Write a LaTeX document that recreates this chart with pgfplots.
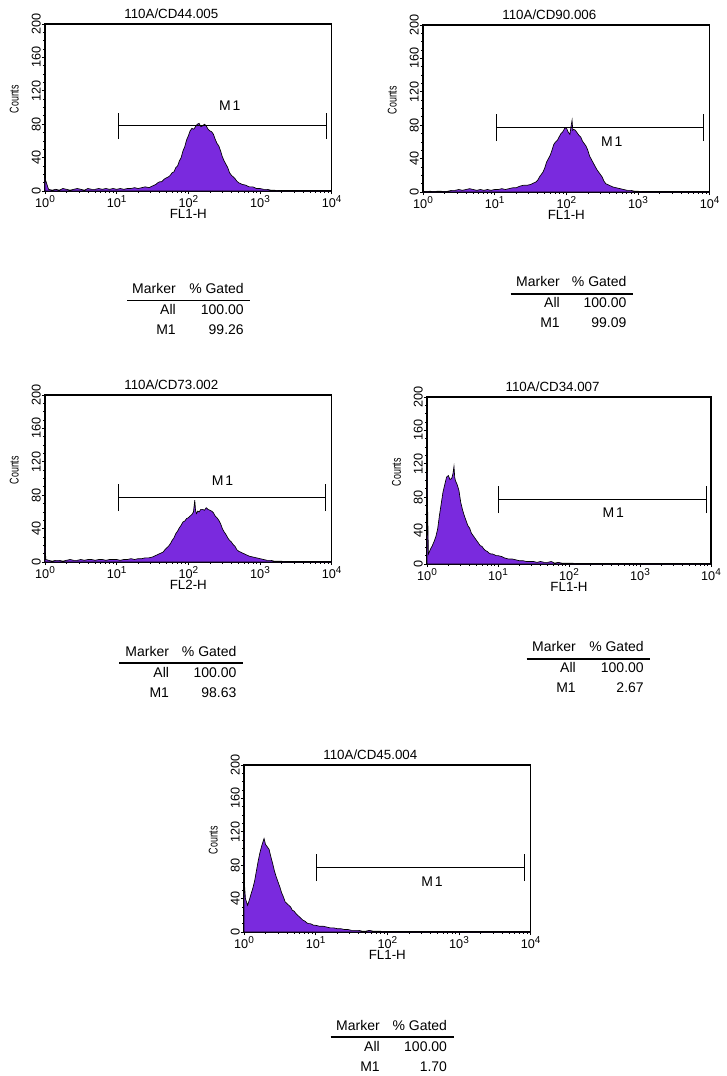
\documentclass[border=0pt]{standalone}
\usepackage{fontspec}
\setmainfont{Liberation Sans}
\usepackage{graphicx}
\usepackage{pgfplots}
\usepackage{pgfplotstable}
\pgfplotsset{compat=1.18}

\definecolor{facsfill}{RGB}{122,42,222}

\pgfplotstableread{
x y
1 15
1.122 2
1.259 1
1.413 2
1.585 1
1.778 3
1.995 2
2.239 1
2.512 2
2.818 3
3.162 2
3.548 1
3.981 3
4.467 2
5.012 2
5.623 3
6.310 2
7.079 3
7.943 2
8.913 3
10 2
11.22 3
12.59 2
14.13 3
15.85 3
17.78 4
19.95 3
22.39 4
25.12 5
28.18 4
31.62 6
33.50 7
35.48 8
37.58 10
39.81 11
42.17 11
44.67 13
47.32 15
50.12 16
53.09 17
56.23 19
59.57 22
63.10 23
66.83 28
70.79 30
74.99 36
79.43 40
84.14 48
89.13 53
94.41 61
100 66
105.9 72
112.2 75
118.9 74
125.9 77
133.4 80
141.3 81
149.6 77
158.5 78
167.9 80
177.8 78
188.4 74
199.5 72
211.3 71
223.9 68
237.1 62
251.2 57
266.1 54
281.8 48
298.5 41
316.2 36
335.0 32
354.8 28
375.8 22
398.1 19
421.7 17
446.7 15
473.2 12
501.2 10
530.9 9
562.3 8
631.0 7
707.9 5
794.3 5
891.3 3
1000 3
1122 2
1259 2
1413 1
1585 1
1778 0
10000 0
}\cdfourfour

\pgfplotstableread{
x y
1 1
1.122 0
1.259 1
1.413 0
1.585 1
1.778 1
1.995 0
2.239 1
2.512 2
2.818 2
3.162 3
3.548 2
3.981 3
4.467 4
5.012 3
5.623 2
6.310 3
7.079 2
7.943 3
8.913 2
10 3
11.22 3
12.59 4
14.13 3
15.85 4
17.78 5
19.95 5
22.39 7
25.12 8
28.18 8
31.62 9
33.50 10
35.48 11
37.58 12
39.81 14
42.17 18
44.67 21
47.32 24
50.12 29
53.09 36
56.23 40
59.57 44
63.10 50
66.83 57
70.79 60
74.99 62
79.43 66
84.14 70
89.13 72
94.41 76
100 77
105.9 72
112.2 69
116 78
120.2 86
123 74
125.9 75
133.4 74
141.3 71
149.6 68
158.5 66
167.9 61
177.8 58
188.4 55
199.5 50
211.3 43
223.9 39
237.1 35
251.2 31
266.1 27
281.8 24
298.5 21
316.2 18
335.0 13
354.8 10
375.8 9
398.1 8
446.7 6
501.2 5
562.3 4
631.0 3
707.9 2
794.3 2
891.3 1
1000 1
1122 0
10000 0
}\cdninety

\pgfplotstableread{
x y
1 18
1.03 3
1.122 2
1.259 1
1.413 2
1.585 2
1.778 1
1.995 2
2.239 3
2.512 2
2.818 2
3.162 3
3.548 2
3.981 3
4.467 3
5.012 2
5.623 3
6.310 3
7.079 2
7.943 3
8.913 3
10 3
11.22 2
12.59 3
14.13 3
15.85 4
17.78 3
19.95 4
22.39 4
25.12 5
28.18 5
31.62 6
33.50 7
35.48 8
37.58 9
39.81 10
42.17 11
44.67 12
47.32 15
50.12 17
53.09 19
56.23 22
59.57 26
63.10 29
66.83 34
70.79 37
74.99 41
79.43 44
84.14 48
89.13 49
94.41 52
100 53
105.9 55
112.2 57
118 60
123 74
126 62
130 58
135.5 61
141.3 60
149.6 63
158.5 63
167.9 62
177.8 65
188.4 63
199.5 62
211.3 61
223.9 59
237.1 55
251.2 53
266.1 50
281.8 46
298.5 40
316.2 36
335.0 33
354.8 29
375.8 26
398.1 24
421.7 21
446.7 19
473.2 15
501.2 13
530.9 12
562.3 11
595.7 10
631.0 9
707.9 7
794.3 6
891.3 5
1000 4
1122 3
1259 2
1413 2
1585 1
1778 1
1995 1
2239 0
10000 0
}\cdseventhree

\pgfplotstableread{
x y
1 110
1.023 60
1.047 12
1.122 18
1.189 22
1.259 27
1.334 33
1.413 42
1.496 58
1.585 72
1.679 86
1.778 95
1.884 104
1.995 106
2.113 101
2.239 103
2.320 108
2.399 117
2.455 104
2.512 100
2.661 95
2.818 88
2.985 74
3.162 65
3.350 58
3.548 52
3.758 46
3.981 43
4.217 37
4.467 34
4.732 31
5.012 28
5.309 25
5.623 22
5.957 21
6.310 18
6.683 16
7.079 15
7.499 13
7.943 12
8.414 12
8.913 11
9.441 10
10 10
11.22 9
12.59 7
14.13 6
15.85 6
17.78 5
19.95 4
22.39 4
25.12 3
28.18 3
31.62 3
35.48 2
39.81 3
44.67 2
50.12 2
56.23 3
63.10 1
70.79 2
79.43 1
89.13 1
100 1
112.2 1
125.9 0
10000 0
}\cdthreefour

\pgfplotstableread{
x y
1 120
1.019 55
1.047 40
1.122 32
1.202 40
1.259 46
1.334 53
1.413 62
1.496 74
1.585 86
1.679 96
1.778 104
1.905 112
1.995 105
2.113 102
2.239 99
2.371 90
2.512 82
2.661 73
2.818 66
2.985 60
3.162 54
3.350 47
3.548 42
3.758 36
3.981 34
4.217 32
4.467 30
4.732 26
5.012 25
5.309 22
5.623 20
5.957 18
6.310 16
6.683 14
7.079 13
7.499 11
7.943 10
8.414 10
8.913 9
9.441 8
10 8
11.22 7
12.59 7
14.13 6
15.85 5
17.78 5
19.95 4
22.39 4
25.12 3
28.18 3
31.62 2
35.48 2
39.81 2
44.67 1
50.12 1
56.23 2
63.10 1
70.79 1
79.43 1
89.13 0
10000 0
}\cdfourfive

\tikzset{
  facshist/.style={fill=facsfill, draw=black, line width=0.5pt},
  facsgate/.style={black, line width=0.9pt},
}
% decade tick label: 10 with a raised exponent, set in the text font
\newcommand{\dec}[1]{{\fontsize{9.5}{11}\selectfont 10\raisebox{0.42em}{\fontsize{7.5}{8}\selectfont #1}}}

\pgfplotsset{
  every axis title/.style={at={(axis description cs:0.276,1)}, anchor=base west,
    yshift=4.1pt, inner sep=0pt, font=\fontsize{10}{12}\selectfont},
  every axis x label/.style={at={(axis description cs:0.5,0)}, anchor=north,
    inner sep=0pt, yshift=-13.6pt, font=\fontsize{10}{12}\selectfont},
  every axis y label/.style={at={(axis description cs:-0.091,0.55)}, rotate=90,
    anchor=south, inner sep=0pt},
  every axis/.append style={
    scale only axis,
    height=125.25pt,
    xmin=1, xmax=10000, ymin=0, ymax=200,
    /pgf/number format/assume math mode=true,
    xtick={1,10,100,1000,10000},
    xticklabels={\dec{0},\dec{1},\dec{2},\dec{3},\dec{4}},
    minor xtick={2,3,4,5,6,7,8,9,20,30,40,50,60,70,80,90,200,300,400,500,600,700,800,900,2000,3000,4000,5000,6000,7000,8000,9000},
    ytick={0,40,80,120,160,200},
    minor ytick={10,20,30,50,60,70,90,100,110,130,140,150,170,180,190},
    tick pos=left,
    tick align=outside,
    major tick length=2.4pt,
    minor tick length=1.3pt,
    tick style={black, line width=0.6pt},
    axis line style={line width=0.8pt},
    xticklabel style={anchor=north, inner sep=0pt, yshift=-0.5pt},
    yticklabel style={font=\fontsize{9.5}{10}\selectfont, rotate=90, anchor=south, inner sep=0.6pt},
    ylabel={\fontsize{9.5}{11}\selectfont\scalebox{0.7}[1]{Counts}},
  },
}

\newcommand{\mlabel}{M\kern1.4pt1}

\begin{document}
\begin{tikzpicture}
\path[use as bounding box] (0pt,0pt) rectangle (545.25pt,-807pt);

% ---- CD44
\begin{axis}[xmode=log, width=215pt, anchor=south west, at={(33.75pt,-143.25pt)},
  title={110A/CD44.005}, xlabel={FL1-H}]
\addplot[facshist] table {\cdfourfour} \closedcycle;
\addplot[facsgate] coordinates {(10.7,78) (8500,78)};
\addplot[facsgate] coordinates {(10.7,62) (10.7,94)};
\addplot[facsgate] coordinates {(8500,62) (8500,94)};
\node[font=\fontsize{10.5}{12}\selectfont] at (axis cs:380,102) {\mlabel};
\end{axis}

% ---- CD90
\begin{axis}[xmode=log, width=215pt, anchor=south west, at={(317.25pt,-144pt)},
  title={110A/CD90.006}, xlabel={FL1-H}]
\addplot[facshist] table {\cdninety} \closedcycle;
\addplot[facsgate] coordinates {(10.7,77) (8300,77)};
\addplot[facsgate] coordinates {(10.7,61) (10.7,93)};
\addplot[facsgate] coordinates {(8300,61) (8300,93)};
\node[font=\fontsize{10.5}{12}\selectfont] at (axis cs:430,60) {\mlabel};
\end{axis}

% ---- CD73
\begin{axis}[xmode=log, width=215pt, anchor=south west, at={(33.75pt,-421.5pt)},
  title={110A/CD73.002}, xlabel={FL2-H}]
\addplot[facshist] table {\cdseventhree} \closedcycle;
\addplot[facsgate] coordinates {(10.5,77) (8300,77)};
\addplot[facsgate] coordinates {(10.5,61) (10.5,93)};
\addplot[facsgate] coordinates {(8300,61) (8300,93)};
\node[font=\fontsize{10.5}{12}\selectfont] at (axis cs:300,97) {\mlabel};
\end{axis}

% ---- CD34
\begin{axis}[xmode=log, width=213pt, anchor=south west, at={(320.25pt,-423pt)},
  title={110A/CD34.007}, xlabel={FL1-H}]
\addplot[facshist] table {\cdthreefour} \closedcycle;
\addplot[facsgate] coordinates {(10.2,77) (8700,77)};
\addplot[facsgate] coordinates {(10.2,61) (10.2,93)};
\addplot[facsgate] coordinates {(8700,61) (8700,93)};
\node[font=\fontsize{10.5}{12}\selectfont] at (axis cs:420,61) {\mlabel};
\end{axis}

% ---- CD45
\begin{axis}[xmode=log, width=215pt, anchor=south west, at={(183pt,-699pt)},
  title={110A/CD45.004}, xlabel={FL1-H}]
\addplot[facshist] table {\cdfourfive} \closedcycle;
\addplot[facsgate] coordinates {(10.2,77) (8300,77)};
\addplot[facsgate] coordinates {(10.2,61) (10.2,93)};
\addplot[facsgate] coordinates {(8300,61) (8300,93)};
\node[font=\fontsize{10.5}{12}\selectfont] at (axis cs:420,60) {\mlabel};
\end{axis}

% ---- marker tables (pixel units, y downwards)
\begin{scope}[x=0.75pt, y=-0.75pt, font=\fontsize{10.5}{12}\selectfont]
  \foreach \ra/\rb/\bl/\rl/\rr/\mv in {
      176/244/293.5/127/250/99.26,
      560/626.7/286.7/510.7/633.3/99.09,
      169.3/236.7/656/119.3/242.7/98.63,
      576/644/651.7/526.7/650/2.67,
      380/447.3/1030/330.7/454/1.70}{
    \node[inner sep=0pt, anchor=base east] at (\ra,\bl) {Marker};
    \node[inner sep=0pt, anchor=base east] at (\rb,\bl) {\% Gated};
    \draw[line width=1.2pt] (\rl,\bl+7) -- (\rr,\bl+7);
    \node[inner sep=0pt, anchor=base east] at (\ra,\bl+21) {All};
    \node[inner sep=0pt, anchor=base east] at (\rb,\bl+21) {100.00};
    \node[inner sep=0pt, anchor=base east] at (\ra,\bl+41) {M1};
    \node[inner sep=0pt, anchor=base east] at (\rb,\bl+41) {\mv};
  }
\end{scope}
\end{tikzpicture}
\end{document}
